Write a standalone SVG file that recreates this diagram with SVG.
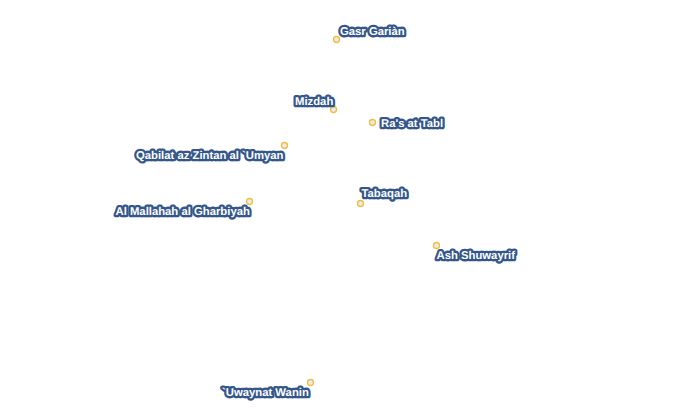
<svg xmlns="http://www.w3.org/2000/svg" width="700" height="410" viewBox="0 0 700 410">
<style>
text{font-family:"Liberation Sans",Arial,sans-serif;font-size:11.3px;font-weight:bold;fill:#fff;stroke:#34568b;stroke-width:4.6px;paint-order:stroke;stroke-linejoin:round;text-rendering:geometricPrecision}
circle{fill:#ececec;stroke:#f2bc3c;stroke-width:1.3}
</style>
<rect width="700" height="410" fill="#fff"/>
<g id="connectors"/>
<g id="n1"><circle cx="336.500" cy="39.500" r="3"/><text x="340" y="35">Gasr Gariàn</text></g>
<g id="n2"><circle cx="333.500" cy="109.500" r="3"/><text x="295" y="105">Mizdah</text></g>
<g id="n3"><circle cx="372.500" cy="122.500" r="3"/><text x="381" y="127">Ra's at Tabl</text></g>
<g id="n4"><circle cx="284.500" cy="145.500" r="3"/><text x="136" y="159">Qabilat az Zintan al `Umyan</text></g>
<g id="n5"><circle cx="249.500" cy="201.500" r="3"/><text x="115.500" y="215">Al Mallahah al Gharbiyah</text></g>
<g id="n6"><circle cx="360.500" cy="203.500" r="3"/><text x="361.500" y="197">Tabaqah</text></g>
<g id="n7"><circle cx="436.500" cy="245.500" r="3"/><text x="436.500" y="259">Ash Shuwayrif</text></g>
<g id="n8"><circle cx="310.500" cy="382.500" r="3"/><text x="222" y="396">`Uwaynat Wanin</text></g>
</svg>
